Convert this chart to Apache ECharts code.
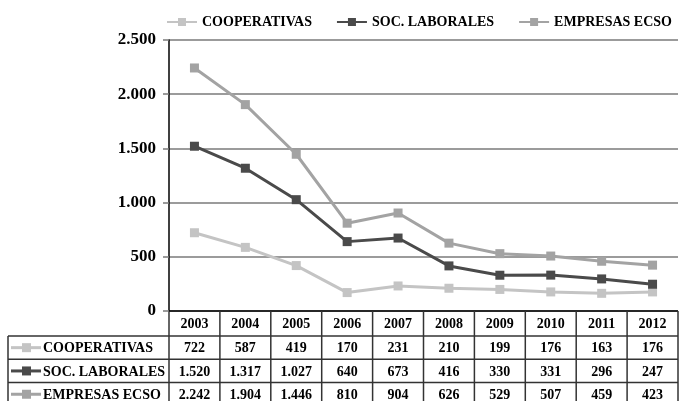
<!DOCTYPE html>
<html>
<head>
<meta charset="utf-8">
<script src="https://cdn.jsdelivr.net/npm/echarts@6/dist/echarts.min.js"></script>
<style>html,body{margin:0;padding:0;background:#fff;}#c{width:679px;height:401px;}</style>
</head>
<body>
<div id="c"></div>
<script>
const years = ['2003','2004','2005','2006','2007','2008','2009','2010','2011','2012'];
const seriesNames = ['COOPERATIVAS','SOC. LABORALES','EMPRESAS ECSO'];
const cooperativas = [722,587,419,170,231,210,199,176,163,176];
const socLaborales = [1520,1317,1027,640,673,416,330,331,296,247];
const empresasEcso = [2242,1904,1446,810,904,626,529,507,459,423];
const colors = ['#c4c4c4','#4a4a4a','#a3a3a3'];
const FONT = '"Liberation Serif","Times New Roman",serif';
const fmt = n => String(n).replace(/\B(?=(\d{3})+(?!\d))/g, '.');

const chart = echarts.init(document.getElementById('c'));
const allData = [cooperativas, socLaborales, empresasEcso];
const option = {
  animation: false,
  backgroundColor: '#fff',
  color: colors,
  legend: {
    top: 10, left: 166, width: 540, padding: [5, 0, 5, 0],
    itemWidth: 30, itemHeight: 10, itemGap: 24,
    textStyle: {fontFamily: FONT, fontWeight: 'bold', fontSize: 14, color: '#000'},
    data: seriesNames
  },
  grid: {left: 169, right: 1, top: 40, bottom: 90},
  xAxis: {
    type: 'category', data: years, boundaryGap: true,
    axisLine: {show: false}, axisTick: {show: false}, axisLabel: {show: false}
  },
  yAxis: {
    type: 'value', min: 0, max: 2500, interval: 500,
    axisLine: {show: true, lineStyle: {color: '#000', width: 1.5}},
    axisTick: {show: true, length: 6, lineStyle: {color: '#7a7a7a', width: 1.5}},
    axisLabel: {fontFamily: FONT, fontWeight: 'bold', fontSize: 17, color: '#000', margin: 13, formatter: v => fmt(v)},
    splitLine: {lineStyle: {color: '#7a7a7a', width: 1.5}}
  },
  series: seriesNames.map((n, k) => ({
    name: n, type: 'line', data: allData[k],
    symbol: 'rect', symbolSize: 9,
    lineStyle: {width: 3, color: colors[k]},
    itemStyle: {color: colors[k]}
  }))
};
chart.setOption(option);

// Build data table using the chart's own scales
const cx = years.map((y, i) => chart.convertToPixel({xAxisIndex: 0}, i));
const colW = cx[1] - cx[0];
const left = cx[0] - colW / 2;
const right = cx[cx.length - 1] + colW / 2;
const y0 = chart.convertToPixel({yAxisIndex: 0}, 0);
const headerH = 25, rowH = 23.3;
const tableLeft = 8;
const lineStyle = {stroke: '#333', lineWidth: 1.5};
const g = [];
const rowTops = [y0 + headerH, y0 + headerH + rowH, y0 + headerH + 2 * rowH];
const bottom = y0 + headerH + 3 * rowH + 2;
// horizontal lines
g.push({type: 'line', shape: {x1: tableLeft, y1: rowTops[0], x2: right, y2: rowTops[0]}, style: lineStyle});
g.push({type: 'line', shape: {x1: tableLeft, y1: rowTops[1], x2: right, y2: rowTops[1]}, style: lineStyle});
g.push({type: 'line', shape: {x1: tableLeft, y1: rowTops[2], x2: right, y2: rowTops[2]}, style: lineStyle});
g.push({type: 'line', shape: {x1: left, y1: y0, x2: right, y2: y0}, style: {stroke: '#000', lineWidth: 1.5}});
// vertical lines
for (let i = 0; i <= years.length; i++) {
  const x = left + i * colW;
  g.push({type: 'line', shape: {x1: x, y1: y0, x2: x, y2: bottom}, style: lineStyle});
}
g.push({type: 'line', shape: {x1: tableLeft, y1: rowTops[0], x2: tableLeft, y2: bottom}, style: lineStyle});
// header text
years.forEach((y, i) => {
  g.push({type: 'text', x: cx[i], y: y0 + headerH / 2 + 1, style: {text: y, fill: '#000', font: 'bold 14px ' + FONT, align: 'center', verticalAlign: 'middle'}});
});
// rows
seriesNames.forEach((n, k) => {
  const cy = rowTops[k] + rowH / 2 + 1;
  g.push({type: 'line', shape: {x1: tableLeft + 3, y1: cy - 1, x2: tableLeft + 33, y2: cy - 1}, style: {stroke: colors[k], lineWidth: 3}});
  g.push({type: 'rect', shape: {x: tableLeft + 14, y: cy - 5.5, width: 9, height: 9}, style: {fill: colors[k]}});
  g.push({type: 'text', x: tableLeft + 35, y: cy, style: {text: n, fill: '#000', font: 'bold 14px ' + FONT, align: 'left', verticalAlign: 'middle'}});
  allData[k].forEach((v, i) => {
    g.push({type: 'text', x: cx[i], y: cy, style: {text: fmt(v), fill: '#000', font: 'bold 14px ' + FONT, align: 'center', verticalAlign: 'middle'}});
  });
});
chart.setOption({graphic: g});
</script>
</body>
</html>
